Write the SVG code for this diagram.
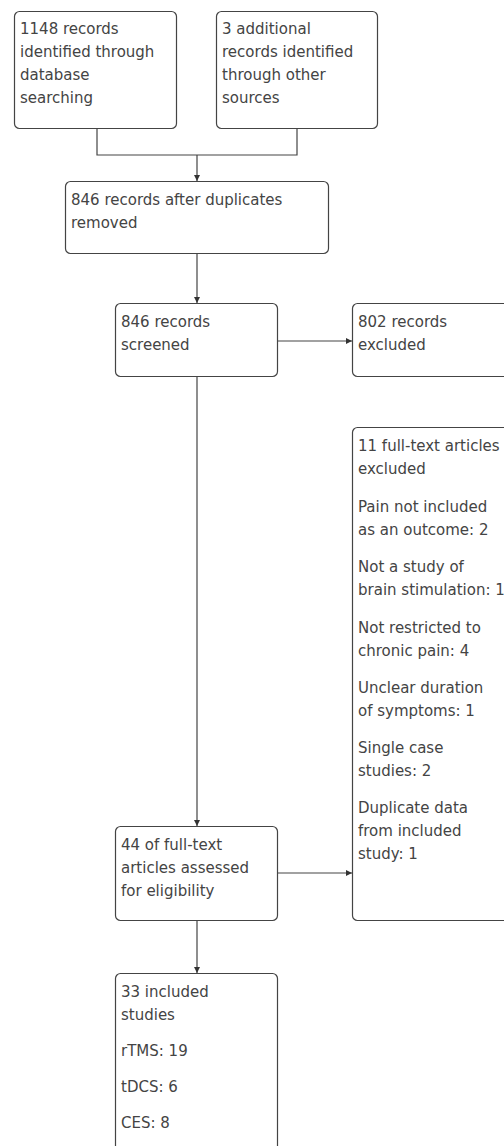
<svg xmlns="http://www.w3.org/2000/svg" width="504" height="1146" viewBox="0 0 504 1146">
<defs>
<marker id="arr" viewBox="0 0 10 10" refX="10" refY="5" markerWidth="6" markerHeight="6" orient="auto" markerUnits="userSpaceOnUse">
<path d="M0,0 L10,5 L0,10 z" fill="#333"/>
</marker>
<style>
.box{fill:#fff;stroke:#444;stroke-width:1.2}
.t{font-family:"DejaVu Sans",Verdana,sans-serif;font-size:15px;fill:#444}
.c{fill:none;stroke:#444;stroke-width:1.2}
</style>
</defs>
<rect width="504" height="1146" fill="#fff"/>
<g id="connectors">
<polyline class="c" points="97,128 97,155 297,155 297,128"/>
<line class="c" x1="197" y1="155" x2="197" y2="181" marker-end="url(#arr)"/>
<line class="c" x1="197" y1="253" x2="197" y2="303" marker-end="url(#arr)"/>
<line class="c" x1="277" y1="341" x2="352" y2="341" marker-end="url(#arr)"/>
<line class="c" x1="197" y1="376" x2="197" y2="826" marker-end="url(#arr)"/>
<line class="c" x1="277" y1="873" x2="352" y2="873" marker-end="url(#arr)"/>
<line class="c" x1="197" y1="920" x2="197" y2="973" marker-end="url(#arr)"/>
</g>
<g id="n1">
<rect class="box" x="14.5" y="11.5" width="162" height="117" rx="5"/>
<text class="t"><tspan x="20" y="34">1148 records</tspan><tspan x="20" y="57">identified through</tspan><tspan x="20" y="80">database</tspan><tspan x="20" y="103">searching</tspan></text>
</g>
<g id="n2">
<rect class="box" x="216.5" y="11.5" width="161" height="117" rx="5"/>
<text class="t"><tspan x="222" y="34">3 additional</tspan><tspan x="222" y="57">records identified</tspan><tspan x="222" y="80">through other</tspan><tspan x="222" y="103">sources</tspan></text>
</g>
<g id="n3">
<rect class="box" x="65.5" y="181.5" width="263" height="72" rx="5"/>
<text class="t"><tspan x="71" y="205">846 records after duplicates</tspan><tspan x="71" y="228">removed</tspan></text>
</g>
<g id="n4">
<rect class="box" x="115.5" y="303.5" width="162" height="73" rx="5"/>
<text class="t"><tspan x="121" y="327">846 records</tspan><tspan x="121" y="350">screened</tspan></text>
</g>
<g id="n5">
<rect class="box" x="352.5" y="303.5" width="200" height="73" rx="5"/>
<text class="t"><tspan x="358" y="327">802 records</tspan><tspan x="358" y="350">excluded</tspan></text>
</g>
<g id="n6">
<rect class="box" x="352.5" y="427.5" width="200" height="493" rx="5"/>
<text class="t">
<tspan x="358" y="451">11 full-text articles</tspan><tspan x="358" y="474">excluded</tspan>
<tspan x="358" y="512">Pain not included</tspan><tspan x="358" y="535">as an outcome: 2</tspan>
<tspan x="358" y="572">Not a study of</tspan><tspan x="358" y="595">brain stimulation: 1</tspan>
<tspan x="358" y="633">Not restricted to</tspan><tspan x="358" y="656">chronic pain: 4</tspan>
<tspan x="358" y="693">Unclear duration</tspan><tspan x="358" y="716">of symptoms: 1</tspan>
<tspan x="358" y="753">Single case</tspan><tspan x="358" y="776">studies: 2</tspan>
<tspan x="358" y="813">Duplicate data</tspan><tspan x="358" y="836">from included</tspan><tspan x="358" y="859">study: 1</tspan>
</text>
</g>
<g id="n7">
<rect class="box" x="115.5" y="826.5" width="162" height="94" rx="5"/>
<text class="t"><tspan x="121" y="850">44 of full-text</tspan><tspan x="121" y="873">articles assessed</tspan><tspan x="121" y="896">for eligibility</tspan></text>
</g>
<g id="n8">
<rect class="box" x="115.5" y="973.5" width="162" height="220" rx="5"/>
<text class="t"><tspan x="121" y="997">33 included</tspan><tspan x="121" y="1020">studies</tspan><tspan x="121" y="1056">rTMS: 19</tspan><tspan x="121" y="1092">tDCS: 6</tspan><tspan x="121" y="1128">CES: 8</tspan></text>
</g>
</svg>
